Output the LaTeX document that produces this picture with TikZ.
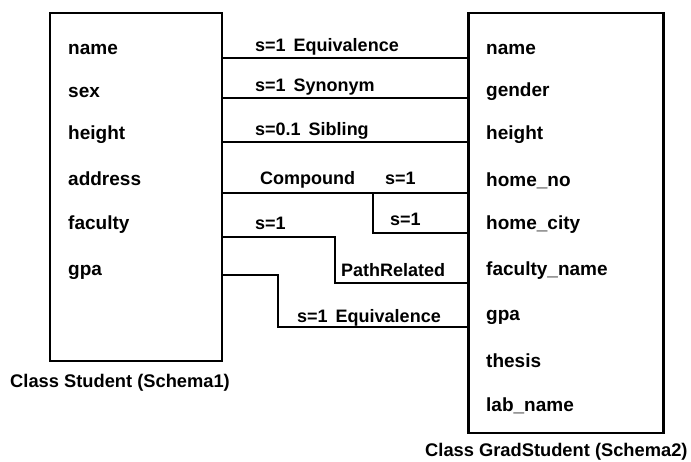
\documentclass[tikz,border=0pt]{standalone}
\usepackage{fontspec}
\setmainfont{Liberation Sans}
\begin{document}
\begin{tikzpicture}[x=1pt,y=-1pt,
  box/.style={draw,line width=2.6pt,inner sep=0pt},
  conn/.style={line width=1.6pt},
  attr/.style={anchor=west,font=\fontsize{19}{22}\selectfont\bfseries,inner sep=0pt},
  rel/.style={anchor=base west,font=\fontsize{18}{21}\selectfont\bfseries,inner sep=0pt},
  captxt/.style={anchor=west,font=\fontsize{18.3}{21}\selectfont\bfseries,inner sep=0pt}]
\useasboundingbox (0,0) rectangle (691,462);
% boxes
\node[box,minimum width=172pt,minimum height=348pt] (S1) at (136,187) {};
\node[box,minimum width=195pt,minimum height=420pt] (S2) at (566,223) {};
% left attributes
\node[attr] (a1) at (68,49) {name};
\node[attr] (a2) at (68,92) {sex};
\node[attr] (a3) at (68,135) {height};
\node[attr] (a4) at (68,179) {address};
\node[attr] (a5) at (68,225) {faculty};
\node[attr] (a6) at (68,272) {gpa};
% right attributes
\node[attr] (b1) at (486,49) {name};
\node[attr] (b2) at (486,92) {gender};
\node[attr] (b3) at (486,135) {height};
\node[attr] (b4) at (486,181) {home\_no};
\node[attr] (b5) at (486,225) {home\_city};
\node[attr] (b6) at (486,271) {faculty\_name};
\node[attr] (b7) at (486,317) {gpa};
\node[attr] (b8) at (486,361) {thesis};
\node[attr] (b9) at (486,406) {lab\_name};
% captions
\node[captxt] (c1) at (10,383) {Class Student (Schema1)};
\node[captxt] (c2) at (425,452) {Class GradStudent (Schema2)};
% connector end points
\coordinate (L1) at (S1.east |- 0,58);
\coordinate (R1) at (S2.west |- 0,58);
\coordinate (L2) at (S1.east |- 0,98);
\coordinate (R2) at (S2.west |- 0,98);
\coordinate (L3) at (S1.east |- 0,142);
\coordinate (R3) at (S2.west |- 0,142);
\coordinate (L4) at (S1.east |- 0,193);
\coordinate (R4) at (S2.west |- 0,193);
\coordinate (J4) at (373,193);
\coordinate (R5) at (S2.west |- 0,233);
\coordinate (L5) at (S1.east |- 0,237);
\coordinate (R6) at (S2.west |- 0,283);
\coordinate (L6) at (S1.east |- 0,275);
\coordinate (R7) at (S2.west |- 0,327);
% connectors
\draw[conn] (L1) -- (R1);
\draw[conn] (L2) -- (R2);
\draw[conn] (L3) -- (R3);
\draw[conn] (L4) -- (R4);
\draw[conn] (J4) |- (R5);
\draw[conn] (L5) -- (335,237) |- (R6);
\draw[conn] (L6) -- (278,275) |- (R7);
% relation labels
\node[rel] (r1) at (255,52) {s=1\hspace{8pt}Equivalence};
\node[rel] (r2) at (255,92) {s=1\hspace{8pt}Synonym};
\node[rel] (r3) at (255,136) {s=0.1\hspace{8pt}Sibling};
\node[rel] (r4) at (260,185) {Compound};
\node[rel] (r5) at (385,185) {s=1};
\node[rel] (r6) at (390,226) {s=1};
\node[rel] (r7) at (255,230) {s=1};
\node[rel] (r8) at (341,277) {PathRelated};
\node[rel] (r9) at (297,323) {s=1\hspace{8pt}Equivalence};
\end{tikzpicture}
\end{document}
